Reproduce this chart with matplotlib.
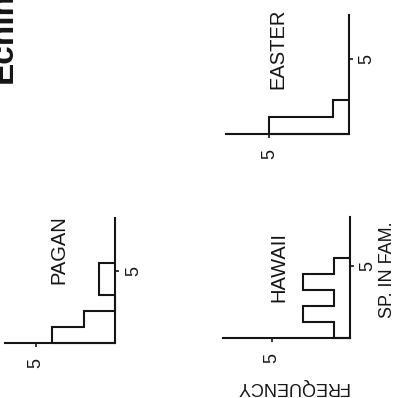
import numpy as np
import matplotlib
matplotlib.use("Agg")
import matplotlib.pyplot as plt

plt.rcParams['font.family'] = ['Liberation Sans', 'DejaVu Sans']

# ---- data ----
pagan_freq = [4, 2, 0, 1, 1]
hawaii_freq = [1, 3, 1, 3, 1]
easter_freq = [5, 1]
panel_names = ["PAGAN", "HAWAII", "EASTER"]
tick_value = 5
title_text = "Echinoidea"
xlabel_text = "FREQUENCY"
ylabel_text = "SP. IN FAM."

W, H = 394, 398
fig = plt.figure(figsize=(W / 100, H / 100), dpi=100)
fig.patch.set_facecolor("white")

INK = "#151515"


def px_rect(left, top, right, bottom):
    return [left / W, 1 - bottom / H, (right - left) / W, (bottom - top) / H]


def px(x, y):
    return x / W, 1 - y / H


def panel(rect, freq, fmax, smax):
    ax = fig.add_axes(rect)
    ax.set_facecolor("none")
    edges = np.arange(len(freq) + 1) + 0.5
    ax.stairs(freq, edges, orientation="horizontal", baseline=0,
              color=INK, lw=1.5, clip_on=False)
    ax.set_xlim(fmax, 0)
    ax.set_ylim(0.5, smax)
    for s in ("top", "left"):
        ax.spines[s].set_visible(False)
    for s in ("right", "bottom"):
        ax.spines[s].set_linewidth(1.5)
        ax.spines[s].set_color(INK)
    ax.yaxis.tick_right()
    ax.set_xticks([tick_value])
    ax.set_yticks([tick_value])
    ax.tick_params(axis="x", direction="out", length=3, width=1.2, pad=8,
                   labelrotation=90, labelsize=13, color=INK, labelcolor=INK)
    ax.tick_params(axis="y", direction="out", length=3, width=1.2, pad=4,
                   labelrotation=90, labelsize=13, color=INK, labelcolor=INK)
    for lab in ax.get_yticklabels():
        lab.set_verticalalignment("center")
    return ax


ax_pagan = panel(px_rect(5, 218, 115.3, 342.7), pagan_freq, 6.95, 8.35)
ax_hawaii = panel(px_rect(223, 217, 350, 338), hawaii_freq, 8.1, 8.1)
ax_easter = panel(px_rect(226, 15, 348.5, 134), easter_freq, 7.75, 7.6)

# panel names
for name, (cx, cy) in zip(panel_names, [(59, 250), (279, 267), (278, 49)]):
    fig.text(*px(cx, cy), name, rotation=90, ha="center", va="center",
             fontsize=14.5, color=INK)

# axis labels
fig.text(*px(292, 386), xlabel_text, rotation=180, ha="center", va="center",
         fontsize=13, color=INK)
fig.text(*px(387, 270), ylabel_text, rotation=90, ha="center", va="center",
         fontsize=13, color=INK)

# title, cut off at the top-left edge as in the reference
fig.text(*px(11.5, 83), title_text, rotation=90, rotation_mode="anchor",
         ha="left", va="baseline", fontsize=24, fontweight="bold", color=INK)

fig.savefig("out.png", dpi=100, facecolor="white")
